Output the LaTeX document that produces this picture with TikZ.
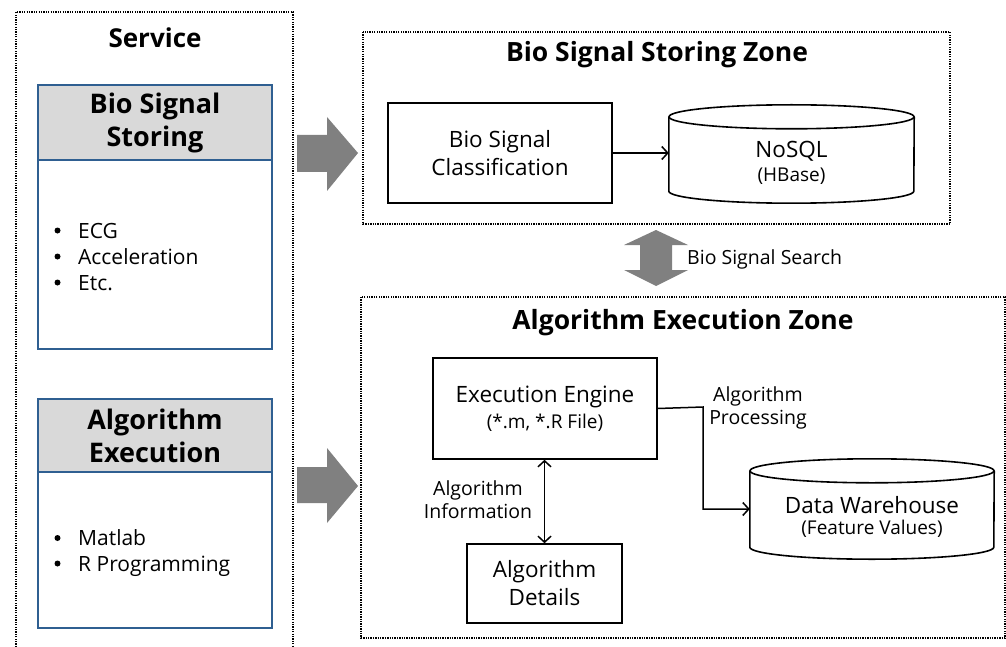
\documentclass[tikz,border=0pt]{standalone}
\usepackage{fontspec}
\setmainfont{Open Sans}
\usetikzlibrary{arrows.meta}
\definecolor{hdrgray}{RGB}{217,217,217}
\definecolor{boxblue}{RGB}{47,95,145}
\definecolor{fatgray}{RGB}{128,128,128}
\newcommand{\bigtitle}{\fontsize{26.5}{32}\selectfont\bfseries}
\newcommand{\boxtext}{\fontsize{22.5}{28}\selectfont}
\newcommand{\smalltext}{\fontsize{19}{25}\selectfont}
\newcommand{\labeltext}{\fontsize{19.5}{23}\selectfont}

\begin{document}
\begin{tikzpicture}[x=1pt,y=-1pt,
  zone/.style={draw, line width=1.3pt, dash pattern=on 1.3pt off 1.1pt},
  svchdr/.style={draw=boxblue, line width=1.6pt, fill=hdrgray, inner sep=0pt,
    align=center, font=\fontsize{27}{33}\selectfont\bfseries},
  svcbody/.style={draw=boxblue, line width=1.6pt, inner sep=0pt},
  item/.style={inner sep=0pt, anchor=base west, font=\fontsize{21}{26}\selectfont},
  dot/.style={fill=black},
  proc/.style={draw, line width=1.6pt, inner sep=0pt, align=center},
  dbspace/.style={inner sep=0pt},
  dbline/.style={line width=1.6pt},
  plain/.style={inner sep=0pt, align=center},
  flow/.style={line width=1.5pt, -{Straight Barb[length=6pt,width=13pt,line width=1.5pt]}},
  flowboth/.style={line width=1.5pt, {Straight Barb[length=6pt,width=13pt,line width=1.5pt]}-{Straight Barb[length=6pt,width=13pt,line width=1.5pt]}},
  fat/.style={fill=fatgray, draw=none}
]
\useasboundingbox (0,0) rectangle (1006,647);
\fill[white] (0,0) rectangle (1006,647);

% ---------- Service column ----------
\draw[zone] (16,647) -- (16,12) -- (293,12) -- (293,647);
\node[plain, font=\fontsize{26}{32}\selectfont\bfseries] (svc) at (155,38) {Service};

\node[svcbody, minimum width=234pt, minimum height=189pt] (storebody) at (155,254.5) {};
\node[svchdr, minimum width=234pt, minimum height=75pt] (storehdr) at (155,122.5) {Bio Signal\\Storing};
\node[item] (ecg)   at (78,238) {ECG};
\node[item] (accel) at (78,264) {Acceleration};
\node[item] (etc)   at (78,290) {Etc.};
\foreach \n in {ecg,accel,etc}
  \fill[dot] ([yshift=7.5pt]\n.base west) ++(-20.5,0) circle[radius=3pt];

\node[svcbody, minimum width=234pt, minimum height=156pt] (algbody) at (155,550) {};
\node[svchdr, minimum width=234pt, minimum height=73pt] (alghdr) at (155,435.5) {Algorithm\\Execution};
\node[item] (matlab) at (78,545.5) {Matlab};
\node[item] (rprog)  at (78,571)   {R Programming};
\foreach \n in {matlab,rprog}
  \fill[dot] ([yshift=7.5pt]\n.base west) ++(-20.5,0) circle[radius=3pt];

% ---------- broad arrows into the zones ----------
\fill[fat] (297,135) -- (327,135) -- (327,117) -- (358,153) -- (327,191) -- (327,172) -- (297,172) -- cycle;
\fill[fat] (297,467) -- (327,467) -- (327,448) -- (358,486) -- (327,523) -- (327,503) -- (297,503) -- cycle;

% ---------- Bio Signal Storing Zone ----------
\draw[zone] (363,32) rectangle (950,224);
\node[plain, font=\bigtitle] (storezone) at (657,55) {Bio Signal Storing Zone};

\node[proc, minimum width=224pt, minimum height=100pt, font=\boxtext] (classify) at (500,153)
  {Bio Signal\\Classification};

\node[dbspace, minimum width=245pt, minimum height=98pt] (nosql) at (791.5,154) {};
\draw[dbline] ([yshift=-12pt]nosql.north west) -- ([yshift=12pt]nosql.south west)
  arc[start angle=180, end angle=360, x radius=122.5pt, y radius=12pt]
  -- ([yshift=-12pt]nosql.north east);
\draw[dbline] ([yshift=-12pt]nosql.north) ellipse[x radius=122.5pt, y radius=12pt];
\node[plain] (nosqltext) at (791.5,163) {\boxtext NoSQL\\[6pt]\smalltext (HBase)};

\draw[flow] (classify.east) -- (classify.east -| nosql.west);

% ---------- search link between zones ----------
\fill[fat] (656,230) -- (688,245) -- (672,245) -- (672,270) -- (688,270) -- (656,286)
  -- (624,270) -- (640,270) -- (640,245) -- (624,245) -- cycle;
\node[plain, anchor=west, font=\labeltext] (search) at (687,259) {Bio Signal Search};

% ---------- Algorithm Execution Zone ----------
\draw[zone] (361,297) rectangle (1005,638);
\node[plain, font=\bigtitle] (execzone) at (683,323) {Algorithm Execution Zone};

\node[proc, minimum width=224pt, minimum height=101pt] (engine) at (545,408.5)
  {\boxtext Execution Engine\\[5pt]\smalltext (*.m, *.R File)};
\node[proc, minimum width=155pt, minimum height=79pt, font=\boxtext] (details) at (544.5,583.5)
  {Algorithm\\Details};
\draw[flowboth] (engine.south -| details.north) -- (details.north);
\node[plain, font=\labeltext] (infolabel) at (478,500) {Algorithm\\Information};

\node[dbspace, minimum width=244pt, minimum height=100pt] (dw) at (872,509) {};
\draw[dbline] ([yshift=-12pt]dw.north west) -- ([yshift=12pt]dw.south west)
  arc[start angle=180, end angle=360, x radius=122pt, y radius=12pt]
  -- ([yshift=-12pt]dw.north east);
\draw[dbline] ([yshift=-12pt]dw.north) ellipse[x radius=122pt, y radius=12pt];
\node[plain] (dwtext) at (872,517) {\boxtext Data Warehouse\\[6pt]\smalltext (Feature Values)};

\coordinate (bend) at (703,407);
\draw[flow] (engine.east) -- (bend) |- (dw.west);
\node[plain, font=\labeltext] (proclabel) at (758,408) {Algorithm\\Processing};
\end{tikzpicture}
\end{document}
